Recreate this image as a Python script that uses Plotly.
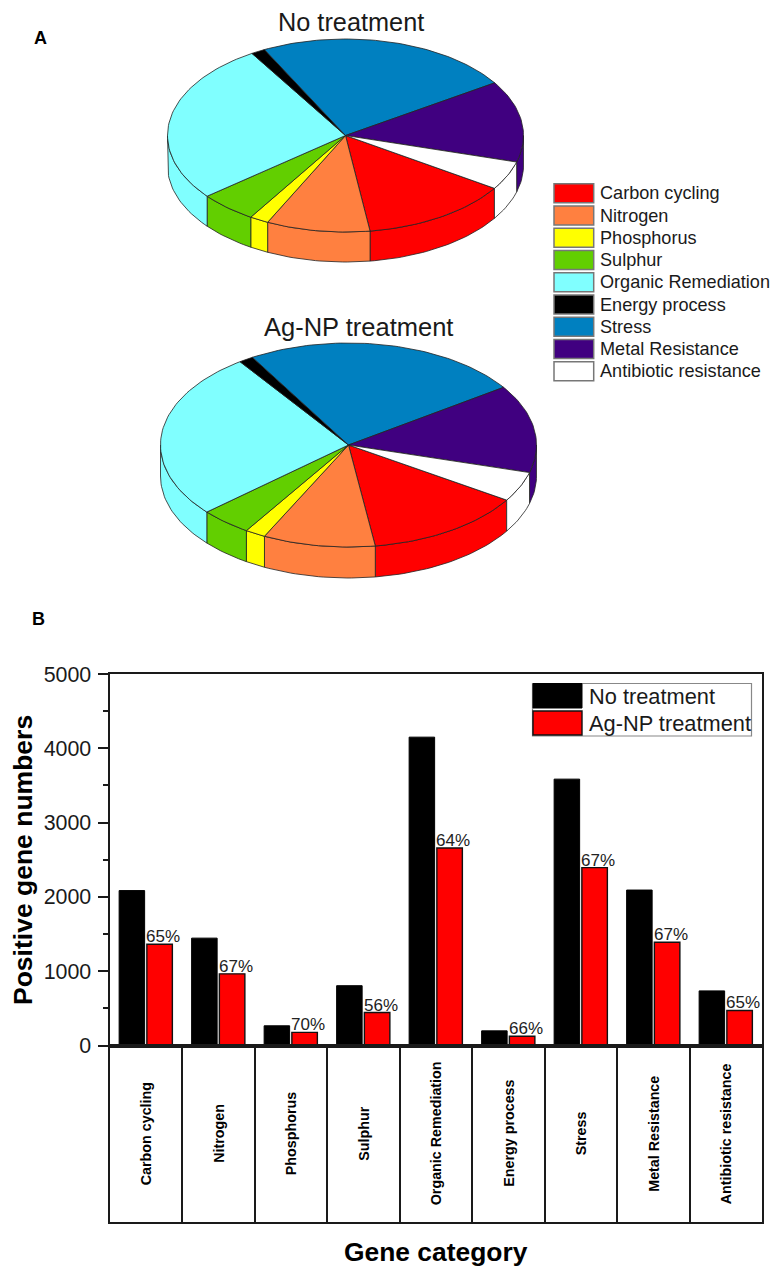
import math
import plotly.graph_objects as go

# ---------- data ----------
categories = ["Carbon cycling", "Nitrogen", "Phosphorus", "Sulphur", "Organic Remediation",
              "Energy process", "Stress", "Metal Resistance", "Antibiotic resistance"]
no_treatment = [2085, 1445, 265, 805, 4150, 197, 3585, 2092, 735]
ag_np = [1362, 964, 176, 444, 2659, 125, 2394, 1390, 472]
percent_labels = ["65%", "67%", "70%", "56%", "64%", "66%", "67%", "67%", "65%"]
slice_colors = ["#ff0000", "#ff8040", "#ffff00", "#62cf00", "#80ffff",
                "#000000", "#0080c0", "#400080", "#ffffff"]
y_ticks = [0, 1000, 2000, 3000, 4000, 5000]
series_names = ["No treatment", "Ag-NP treatment"]

# ---------- page layout ----------
W, H = 772, 1268
FONT = "Liberation Sans"
INK = "#1a1a1a"
PLOT_L, PLOT_R, PLOT_T, PLOT_B, CAT_B = 109.5, 762, 674, 1045.5, 1222


def dom_x(a, b):
    return [a / W, b / W]


def dom_y(top, bot):
    return [1 - bot / H, 1 - top / H]


fig = go.Figure()

# ---------- bars ----------
xpos = list(range(len(categories)))
fig.add_trace(go.Bar(x=xpos, y=no_treatment, name=series_names[0], marker=dict(color="#000000", line=dict(color="#000000", width=1)),
                     xaxis="x", yaxis="y"))
fig.add_trace(go.Bar(x=xpos, y=ag_np, name=series_names[1], marker=dict(color="#ff0000", line=dict(color="#111111", width=1.4)),
                     xaxis="x", yaxis="y"))
# keeps the category panel's axes alive
fig.add_trace(go.Scatter(x=xpos, y=[0.5] * len(xpos), mode="markers", marker=dict(opacity=0, size=1),
                         xaxis="x2", yaxis="y2", hoverinfo="skip"))


# ---------- 3-D pies, geometry derived from the values ----------
def arc(cx, cy, rx, ry, a, b, dy=0.0):
    n = max(2, int(abs(b - a) / 1.5) + 2)
    pts = [a + (b - a) * i / (n - 1) for i in range(n)]
    return ([cx + rx * math.cos(math.radians(t)) for t in pts],
            [cy + dy + ry * math.sin(math.radians(t)) for t in pts])


def pie3d(values, cx, cy, rx, ry, depth, start):
    total = sum(values)
    spans = []
    a = start
    for v in values:
        b = a + v / total * 360
        spans.append((a, b))
        a = b
    # front wall
    for (a, b), col in zip(spans, slice_colors):
        for k in (0, 360):
            lo, hi = max(a, k), min(b, k + 180)
            if hi > lo:
                x1, y1 = arc(cx, cy, rx, ry, lo, hi)
                x2, y2 = arc(cx, cy, rx, ry, hi, lo, depth)
                fig.add_trace(go.Scatter(x=x1 + x2 + x1[:1], y=y1 + y2 + y1[:1], fill="toself", fillcolor=col,
                                         mode="lines", line=dict(color="#222222", width=0.8),
                                         xaxis="x3", yaxis="y3", hoverinfo="skip"))
    # top face
    for (a, b), col in zip(spans, slice_colors):
        x1, y1 = arc(cx, cy, rx, ry, a, b)
        fig.add_trace(go.Scatter(x=[cx] + x1 + [cx], y=[cy] + y1 + [cy], fill="toself", fillcolor=col,
                                 mode="lines", line=dict(color="#222222", width=0.8),
                                 xaxis="x3", yaxis="y3", hoverinfo="skip"))


pie3d(no_treatment, 345.5, 135.5, 178, 96.5, 30, 33.2)
pie3d(ag_np, 348.5, 445, 188, 102, 31, 32.7)

ann = []
shapes = []


def text(x, y, s, size, bold=False, xa="center", ya="middle", angle=0, xref="x3", yref="y3", color=INK, **kw):
    ann.append(dict(x=x, y=y, xref=xref, yref=yref, text=f"<b>{s}</b>" if bold else s, showarrow=False,
                    xanchor=xa, yanchor=ya, textangle=angle,
                    font=dict(family=FONT, size=size, color=color), **kw))


def rect(x0, y0, x1, y1, fill, line="#777777", w=1.5):
    shapes.append(dict(type="rect", xref="x3", yref="y3", x0=x0, y0=y0, x1=x1, y1=y1,
                       fillcolor=fill, line=dict(color=line, width=w)))


# pie titles, panel letters
text(350.5, 22, series_names[0], 25.3)
text(358, 327, series_names[1], 25.5)
text(40, 38, "A", 18, bold=True, color="#000000")
text(38, 619, "B", 18, bold=True, color="#000000")

# pie key
for i, (c, col) in enumerate(zip(categories, slice_colors)):
    top = 183.7 + i * 22.25
    rect(554, top, 593.7, top + 19, col)
    text(597.5, top + 9.6, c, 18.1, xa="left")

# bar key
rect(532.5, 683.5, 751.5, 736, "#ffffff", "#888888", 1.2)
rect(533, 683.5, 582, 708, "#000000", "#000000", 1)
rect(533, 711, 582, 735, "#ff0000", "#111111", 1.4)
text(586.5, 696, series_names[0], 21.8, xa="left")
text(586.5, 723, series_names[1], 21.8, xa="left")

# percent labels above the red bars
for i, (v, p) in enumerate(zip(ag_np, percent_labels)):
    text(i + 0.24, v, p, 17, xa="center", ya="bottom", xref="x", yref="y", yshift=-4, color="#222222")

# category cells
for i, c in enumerate(categories):
    text(i, 1133.5, c, 14.3, bold=True, angle=-90, xref="x", yref="y3", color="#000000")

# axis titles
text(23, 860, "Positive gene numbers", 26.5, bold=True, angle=-90, color="#000000")
text(436, 1252, "Gene category", 26.4, bold=True, color="#000000")

axis_line = dict(showline=True, linecolor=INK, linewidth=2, mirror=True, automargin=False)
fig.update_layout(
    template="none",
    width=W, height=H, autosize=False, margin=dict(l=0, r=0, t=0, b=0),
    paper_bgcolor="white", plot_bgcolor="rgba(0,0,0,0)", showlegend=False,
    barmode="group", bargap=0.235, bargroupgap=0.08,
    xaxis=dict(domain=dom_x(PLOT_L, PLOT_R), range=[-0.5, 8.5], showticklabels=False, ticks="",
               showgrid=False, zeroline=False, anchor="y", **axis_line),
    yaxis=dict(domain=dom_y(PLOT_T, PLOT_B), range=[0, 5000], tickvals=y_ticks, ticks="outside", ticklen=10,
               tickwidth=2, tickcolor=INK, minor=dict(ticks="outside", ticklen=5, tickwidth=1.5, tickcolor=INK, dtick=500, tick0=0),
               tickfont=dict(family=FONT, size=21.4, color=INK), ticklabelstandoff=2,
               showgrid=False, zeroline=False, anchor="x", **axis_line),
    xaxis2=dict(domain=dom_x(PLOT_L, PLOT_R), range=[-0.5, 8.5], tick0=-0.5, dtick=1, showgrid=True,
                gridcolor=INK, gridwidth=2, showticklabels=False, ticks="", zeroline=False, anchor="y2", **axis_line),
    yaxis2=dict(domain=dom_y(PLOT_B, CAT_B), range=[0, 1], showticklabels=False, ticks="", showgrid=False,
                zeroline=False, anchor="x2", **axis_line),
    xaxis3=dict(domain=[0, 1], range=[0, W], visible=False, anchor="y3", automargin=False),
    yaxis3=dict(domain=[0, 1], range=[H, 0], visible=False, anchor="x3", automargin=False),
    annotations=ann, shapes=shapes,
)
fig.write_html("out.html", default_width=f"{W}px", default_height=f"{H}px",
               config={"displayModeBar": False},
               post_script="document.body.style.margin='0';")
